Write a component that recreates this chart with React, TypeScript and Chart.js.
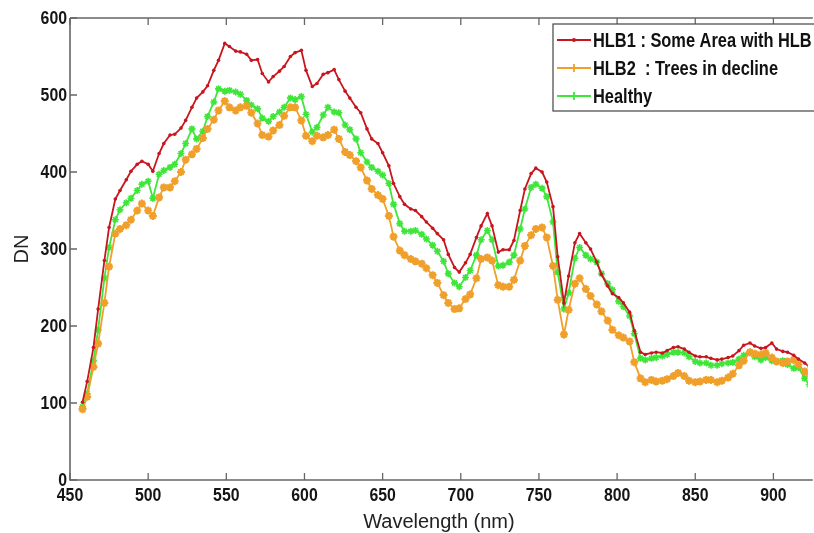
import { useEffect, useRef } from 'react';
import { Chart, registerables } from 'chart.js';

Chart.register(...registerables);

const wavelengths = [
  458, 461, 465, 468, 472, 475, 479, 482, 486, 489,
  493, 496, 500, 503, 507, 510, 514, 517, 521, 524,
  528, 531, 535, 538, 542, 545, 549, 552, 556, 559,
  563, 566, 570, 573, 577, 580, 584, 587, 591, 594,
  598, 601, 605, 608, 612, 615, 619, 622, 626, 629,
  633, 636, 640, 643, 647, 650, 654, 657, 661, 664,
  668, 671, 675, 678, 682, 685, 689, 692, 696, 699,
  703, 706, 710, 713, 717, 720, 724, 727, 731, 734,
  738, 741, 745, 748, 752, 755, 759, 762, 766, 769,
  773, 776, 780, 783, 787, 790, 794, 797, 801, 804,
  808, 811, 815, 818, 822, 825, 829, 832, 836, 839,
  843, 846, 850, 853, 857, 860, 864, 867, 871, 874,
  878, 881, 885, 888, 892, 895, 899, 902, 906, 909,
  913, 916, 920, 923,
];

const hlb1 = [
  101, 128, 172, 222, 285, 328, 365, 376, 390, 401,
  410, 414, 410, 401, 424, 437, 448, 449, 457, 467,
  484, 496, 504, 512, 532, 545, 567, 563, 557, 556,
  553, 545, 546, 528, 517, 524, 531, 537, 550, 555,
  558, 532, 511, 515, 527, 529, 533, 520, 505, 496,
  484, 477, 456, 443, 437, 425, 408, 385, 368, 358,
  352, 350, 342, 335, 327, 320, 312, 293, 276, 270,
  282, 293, 315, 330, 346, 330, 296, 299, 299, 311,
  350, 378, 398, 405, 400, 387, 355, 290, 230, 265,
  308, 320, 308, 300, 283, 267, 252, 242, 237, 230,
  218, 194, 166, 163, 165, 166, 165, 168, 172, 173,
  170, 166, 161, 160, 160, 158, 156, 157, 159, 161,
  168, 175, 178, 174, 171, 172, 178, 170, 167, 166,
  162, 157, 152, 147,
];

const hlb2 = [
  92, 108, 147, 177, 230, 277, 320, 326, 331, 338,
  350, 359, 350, 343, 367, 380, 380, 388, 400, 416,
  423, 430, 444, 456, 468, 480, 492, 484, 480, 484,
  486, 477, 463, 448, 446, 454, 461, 473, 484, 484,
  467, 447, 440, 447, 445, 448, 455, 443, 426, 422,
  414, 406, 389, 378, 370, 365, 343, 316, 298, 292,
  287, 284, 281, 275, 266, 256, 240, 230, 222, 223,
  235, 241, 262, 287, 289, 285, 253, 251, 251, 260,
  285, 304, 318, 326, 328, 315, 278, 234, 189, 221,
  255, 262, 248, 239, 228, 219, 207, 195, 188, 185,
  180, 153, 132, 127, 130, 128, 129, 131, 135, 139,
  135, 129, 127, 128, 130, 130, 127, 129, 133, 138,
  149, 155, 166, 164, 163, 165, 159, 154, 152, 154,
  156, 150, 141, 138,
];

const healthy = [
  95, 112, 155, 195, 262, 302, 338, 351, 360, 366,
  376, 384, 388, 366, 397, 402, 406, 410, 424, 437,
  456, 443, 453, 472, 491, 508, 505, 506, 504, 501,
  493, 487, 482, 470, 466, 472, 478, 484, 496, 494,
  498, 475, 452, 458, 474, 484, 478, 477, 461, 455,
  443, 425, 413, 406, 401, 396, 385, 358, 333, 323,
  323, 324, 319, 313, 305, 297, 284, 268, 256, 251,
  263, 272, 292, 312, 324, 312, 278, 279, 283, 292,
  326, 352, 380, 384, 379, 368, 335, 270, 222, 243,
  288, 302, 292, 287, 283, 268, 255, 247, 232, 225,
  213, 190, 158, 156, 158, 159, 161, 163, 166, 166,
  165, 160, 154, 152, 152, 149, 149, 151, 152, 153,
  157, 162, 166, 160, 156, 159, 155, 154, 155, 150,
  145, 146, 132, 124,
];

const xTicks = [450, 500, 550, 600, 650, 700, 750, 800, 850, 900];
const yTicks = [0, 100, 200, 300, 400, 500, 600];
const seriesLabels = ['HLB1 : Some Area with HLB', 'HLB2  : Trees in decline', 'Healthy'];
const xTitle = 'Wavelength (nm)';
const yTitle = 'DN';

const RED = '#c8161f';
const ORANGE = '#f0a02a';
const GREEN = '#3ee63a';

function drawScaledText(ctx: CanvasRenderingContext2D, text: string, x: number, y: number, sx: number) {
  ctx.save();
  ctx.translate(x, y);
  ctx.scale(sx, 1);
  ctx.fillText(text, 0, 0);
  ctx.restore();
}

const framePlugin = {
  id: 'matlabFrame',
  beforeDatasetsDraw(chart: any) {
    const { ctx, chartArea } = chart;
    const { left, top, right, bottom } = chartArea;
    const xs = chart.scales.x;
    const ys = chart.scales.y;
    ctx.save();
    ctx.strokeStyle = '#666666';
    ctx.lineWidth = 1.6;
    ctx.beginPath();
    ctx.moveTo(left, top);
    ctx.lineTo(right + 5, top);
    ctx.moveTo(left, top);
    ctx.lineTo(left, bottom);
    ctx.lineTo(right + 5, bottom);
    ctx.stroke();
    ctx.lineWidth = 1.3;
    ctx.beginPath();
    for (const t of xTicks) {
      const px = xs.getPixelForValue(t);
      ctx.moveTo(px, bottom);
      ctx.lineTo(px, bottom - 7);
      ctx.moveTo(px, top);
      ctx.lineTo(px, top + 7);
    }
    for (const t of yTicks) {
      const py = ys.getPixelForValue(t);
      ctx.moveTo(left, py);
      ctx.lineTo(left + 7, py);
    }
    ctx.stroke();

    ctx.fillStyle = '#151515';
    ctx.font = 'bold 18px "Liberation Sans", Arial, sans-serif';
    ctx.textBaseline = 'middle';
    ctx.textAlign = 'right';
    for (const t of yTicks) {
      const py = ys.getPixelForValue(t);
      drawScaledText(ctx, String(t), left - 3, py + 1, 0.88);
    }
    ctx.textAlign = 'center';
    for (const t of xTicks) {
      const px = xs.getPixelForValue(t);
      drawScaledText(ctx, String(t), px, bottom + 16, 0.88);
    }
    ctx.font = '20px "Liberation Sans", Arial, sans-serif';
    ctx.fillStyle = '#222';
    ctx.fillText(xTitle, (left + right) / 2, bottom + 42);
    ctx.save();
    ctx.translate(22, (top + bottom) / 2);
    ctx.rotate(-Math.PI / 2);
    ctx.fillText(yTitle, 0, 0);
    ctx.restore();
    ctx.restore();
  },
  afterDraw(chart: any) {
    const { ctx } = chart;
    const colors = [RED, ORANGE, GREEN];
    const bx = 553;
    const by = 24;
    ctx.save();
    ctx.fillStyle = '#ffffff';
    ctx.fillRect(bx, by, 300, 87);
    ctx.strokeStyle = '#444';
    ctx.lineWidth = 1.2;
    ctx.strokeRect(bx, by, 300, 87);
    const rows = [40, 68, 96];
    seriesLabels.forEach((label, i) => {
      const yy = rows[i];
      ctx.strokeStyle = colors[i];
      ctx.lineWidth = 1.8;
      ctx.beginPath();
      ctx.moveTo(557, yy);
      ctx.lineTo(591, yy);
      ctx.stroke();
      if (i === 0) {
        ctx.fillStyle = colors[i];
        ctx.beginPath();
        ctx.arc(574, yy, 2, 0, Math.PI * 2);
        ctx.fill();
      } else {
        ctx.beginPath();
        ctx.moveTo(574, yy - 4);
        ctx.lineTo(574, yy + 4);
        ctx.stroke();
      }
      ctx.fillStyle = '#111';
      ctx.font = 'bold 20px "Liberation Sans", Arial, sans-serif';
      ctx.textAlign = 'left';
      ctx.textBaseline = 'middle';
      drawScaledText(ctx, label, 593, yy + 1, 0.82);
    });
    ctx.restore();
  },
};

export default function App() {
  const canvasRef = useRef<HTMLCanvasElement | null>(null);

  useEffect(() => {
    document.body.style.margin = '0';
    const canvas = canvasRef.current;
    if (!canvas) return;
    const mk = (vals: number[]) => wavelengths.map((w, i) => ({ x: w, y: vals[i] }));
    const chart = new Chart(canvas, {
      type: 'line',
      data: {
        datasets: [
          {
            label: seriesLabels[0],
            data: mk(hlb1),
            borderColor: RED,
            backgroundColor: RED,
            borderWidth: 1.8,
            pointStyle: 'circle',
            pointRadius: 1.8,
            pointBorderWidth: 0,
            tension: 0,
          },
          {
            label: seriesLabels[1],
            data: mk(hlb2),
            borderColor: ORANGE,
            backgroundColor: ORANGE,
            borderWidth: 1.8,
            pointStyle: 'star',
            pointRadius: 4,
            pointBorderWidth: 2.2,
            tension: 0,
          },
          {
            label: seriesLabels[2],
            data: mk(healthy),
            borderColor: GREEN,
            backgroundColor: GREEN,
            borderWidth: 1.8,
            pointStyle: 'star',
            pointRadius: 3.5,
            pointBorderWidth: 1.6,
            tension: 0,
          },
        ],
      },
      options: {
        animation: false,
        responsive: false,
        devicePixelRatio: 1,
        layout: { padding: { left: 70, top: 18, right: 0, bottom: 53 } },
        plugins: { legend: { display: false }, tooltip: { enabled: false } },
        scales: {
          x: { type: 'linear', min: 450, max: 922, display: false },
          y: { type: 'linear', min: 0, max: 600, display: false },
        },
      },
      plugins: [framePlugin],
    });
    return () => chart.destroy();
  }, []);

  return (
    <div style={{ position: 'fixed', left: 0, top: 0, width: 814, height: 533, background: '#fff' }}>
      <canvas ref={canvasRef} width={814} height={533} />
    </div>
  );
}
